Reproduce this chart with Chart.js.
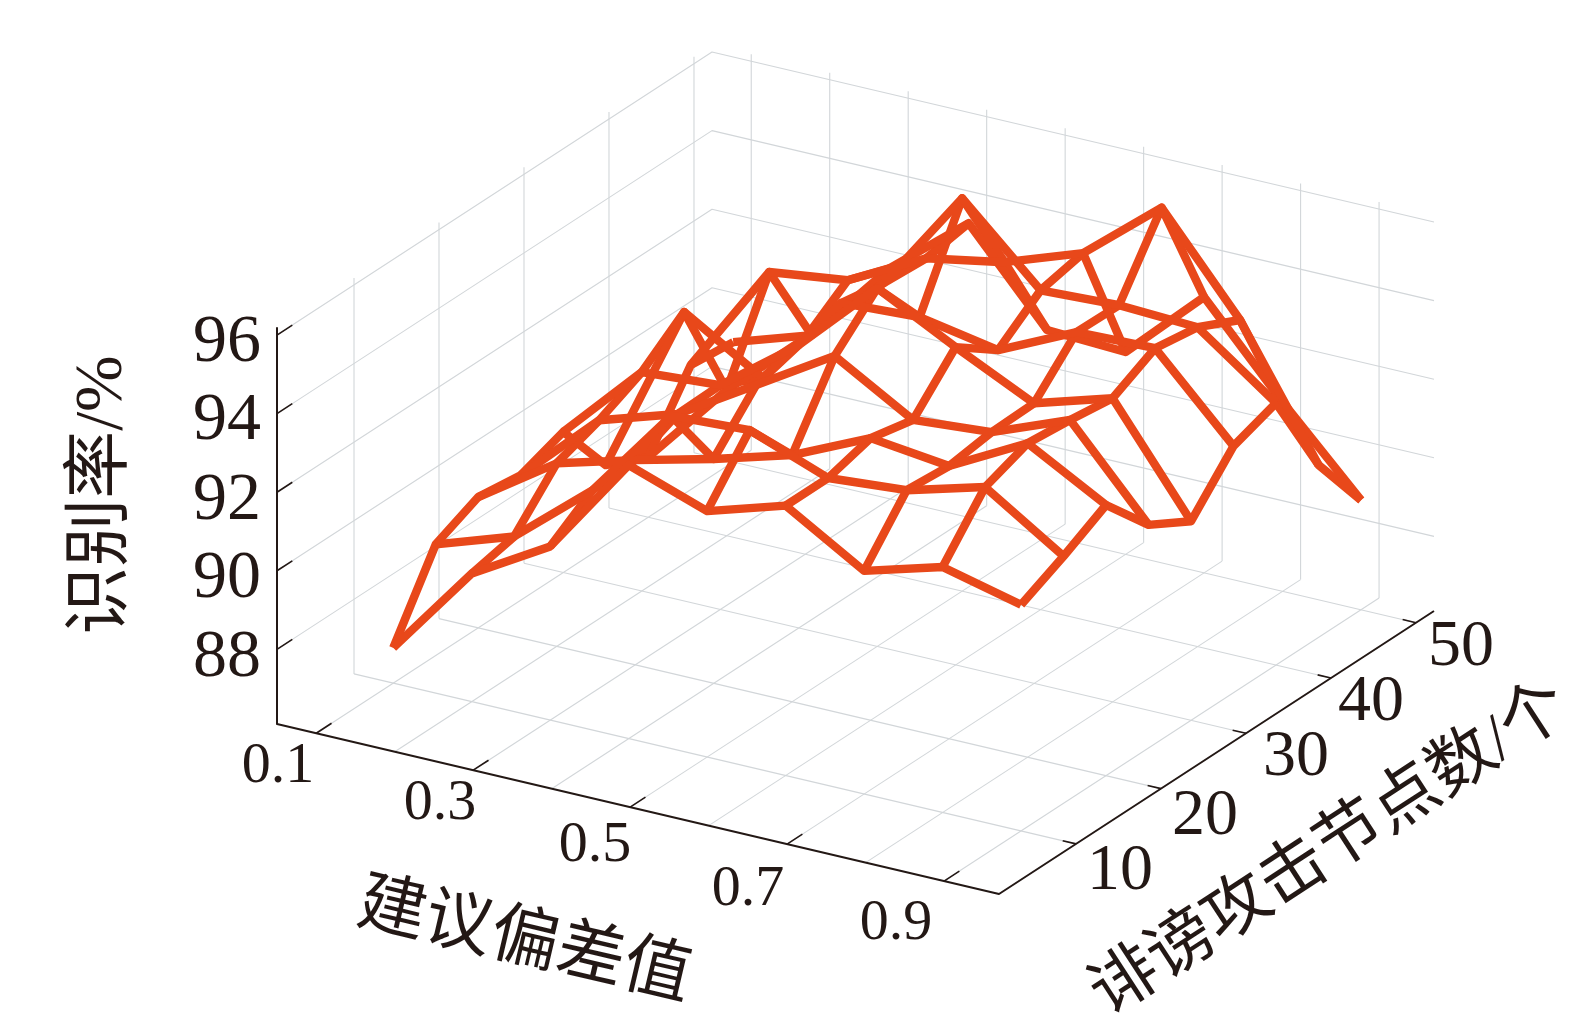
<!DOCTYPE html>
<html>
<head>
<meta charset="utf-8">
<script src="https://cdn.jsdelivr.net/npm/chart.js@4"></script>
<style>
  html, body { margin: 0; padding: 0; background: #fff; }
  canvas { display: block; }
</style>
</head>
<body>
<canvas id="chart" width="1575" height="1024"></canvas>
<script>
// mesh axes
const adviceDeviation = [0.1, 0.2, 0.3, 0.4, 0.5, 0.6, 0.7, 0.8, 0.9];
const slanderNodes = [10, 15, 20, 25, 30, 35, 40, 45, 50];

// recognition rate, one list per slander node count
const rate10 = [87.00, 89.36, 90.52, 93.06, 92.36, 92.97, 91.78, 92.35, 91.86];
const rate15 = [88.93, 89.60, 91.25, 93.61, 93.72, 92.97, 93.13, 93.68, 92.39];
const rate20 = [89.43, 90.76, 91.31, 91.81, 92.38, 93.28, 93.04, 94.09, 92.99];
const rate25 = [89.28, 91.15, 91.78, 92.99, 94.20, 93.04, 93.20, 93.98, 91.78];
const rate30 = [89.68, 91.67, 91.81, 93.30, 95.22, 94.19, 93.23, 93.83, 91.17];
const rate35 = [88.13, 92.50, 91.29, 93.67, 93.78, 93.41, 94.34, 94.40, 92.38];
const rate40 = [87.63, 89.81, 91.60, 93.47, 96.10, 94.23, 94.32, 94.23, 92.77];
const rate45 = [89.27, 92.11, 92.37, 93.40, 93.77, 94.47, 96.10, 93.71, 90.49];
const rate50 = [89.15, 89.80, 91.98, 93.59, 91.34, 91.25, 93.12, 90.92, 88.89];
const rates = [rate10, rate15, rate20, rate25, rate30, rate35, rate40, rate45, rate50];

// ticks and grid
const xGrid = [0.1, 0.2, 0.3, 0.4, 0.5, 0.6, 0.7, 0.8, 0.9];
const xTicks = [0.1, 0.3, 0.5, 0.7, 0.9];
const yTicks = [10, 20, 30, 40, 50];
const zTicks = [88, 90, 92, 94, 96];

// axis limits
const xLim = [0.05, 0.97];
const yLim = [0.94, 52.12];
const zLim = [86.1, 96.18];

// orthographic view, same as the 3d plot: corner and edge vectors in chart units
const corner = { x: 277, y: 724 };
const xEdge = { x: 722, y: 170 };
const yEdge = { x: 435, y: -283 };
const zEdge = -396;

const project = (x, y, z) => {
    const u = (x - xLim[0]) / (xLim[1] - xLim[0]);
    const v = (y - yLim[0]) / (yLim[1] - yLim[0]);
    const w = (z - zLim[0]) / (zLim[1] - zLim[0]);
    return {
        x: corner.x + u * xEdge.x + v * yEdge.x,
        y: corner.y + u * xEdge.y + v * yEdge.y + w * zEdge
    };
};

const lineSet = (points, color, width, order) => ({
    data: points,
    showLine: true,
    pointRadius: 0,
    borderColor: color,
    borderWidth: width,
    borderJoinStyle: 'round',
    borderCapStyle: 'butt',
    tension: 0,
    order: order,
    clip: false
});

const GRID = '#d2d6d9';
const AXIS = '#231815';
const MESH = '#e8481a';
const datasets = [];

// floor grid
xGrid.forEach(x => datasets.push(lineSet([project(x, yLim[0], zLim[0]), project(x, yLim[1], zLim[0])], GRID, 1.1, 30)));
yTicks.forEach(y => datasets.push(lineSet([project(xLim[0], y, zLim[0]), project(xLim[1], y, zLim[0])], GRID, 1.1, 30)));

// left and back walls
yTicks.forEach(y => datasets.push(lineSet([project(xLim[0], y, zLim[0]), project(xLim[0], y, zLim[1])], GRID, 1.1, 30)));
xGrid.forEach(x => datasets.push(lineSet([project(x, yLim[1], zLim[0]), project(x, yLim[1], zLim[1])], GRID, 1.1, 30)));
zTicks.forEach(z => datasets.push(lineSet([
    project(xLim[0], yLim[0], z), project(xLim[0], yLim[1], z), project(xLim[1], yLim[1], z)
], GRID, 1.1, 30)));

// axis lines and tick marks
datasets.push(lineSet([project(xLim[0], yLim[0], zLim[1]), project(xLim[0], yLim[0], zLim[0]),
    project(xLim[1], yLim[0], zLim[0]), project(xLim[1], yLim[1], zLim[0])], AXIS, 2, 20));
zTicks.forEach(z => datasets.push(lineSet([project(xLim[0], yLim[0], z), project(xLim[0], yLim[0] + 1.8, z)], AXIS, 1.6, 20)));
xTicks.forEach(x => datasets.push(lineSet([project(x, yLim[0], zLim[0]), project(x, yLim[0] + 1.8, zLim[0])], AXIS, 1.6, 20)));
yTicks.forEach(y => datasets.push(lineSet([project(xLim[1], y, zLim[0]), project(xLim[1] - 0.017, y, zLim[0])], AXIS, 1.6, 20)));

// wire mesh
rates.forEach((row, j) => {
    datasets.push(lineSet(row.map((z, i) => project(adviceDeviation[i], slanderNodes[j], z)), MESH, 8.4, 1));
});
adviceDeviation.forEach((x, i) => {
    datasets.push(lineSet(rates.map((row, j) => project(x, slanderNodes[j], row[i])), MESH, 8.4, 1));
});

// tick label and title placement
const LATIN = '"Liberation Serif"';
const CJK = '"Liberation Serif", "Noto Sans CJK SC"';
const zLabelPos = [658, 579, 501, 421, 343];
const xLabelPos = [[278, 767], [440, 804], [595, 846], [748, 890], [896, 924]];
const yLabelPos = [[1120, 872], [1205, 817], [1296, 758], [1371, 703], [1461, 648]];

const axisText = {
    id: 'axisText',
    afterDraw(chart) {
        const ctx = chart.ctx;
        ctx.save();
        ctx.fillStyle = AXIS;
        ctx.textBaseline = 'middle';

        ctx.font = '68px ' + LATIN;
        ctx.textAlign = 'right';
        zTicks.forEach((z, i) => ctx.fillText(String(z), 261, zLabelPos[i]));

        ctx.textAlign = 'center';
        ctx.font = '58px ' + LATIN;
        xTicks.forEach((x, i) => ctx.fillText(x.toFixed(1), xLabelPos[i][0], xLabelPos[i][1]));
        ctx.font = '66px ' + LATIN;
        yTicks.forEach((y, i) => ctx.fillText(String(y), yLabelPos[i][0], yLabelPos[i][1]));

        const title = (text, px, py, deg, size) => {
            ctx.save();
            ctx.translate(px, py);
            ctx.rotate(deg * Math.PI / 180);
            ctx.font = size + 'px ' + CJK;
            ctx.fillText(text, 0, 0);
            ctx.restore();
        };
        title('识别率/%', 103, 495, -90, 68);
        title('建议偏差值', 524, 943, 13.2, 68);
        title('诽谤攻击节点数/个', 1331, 851, -33, 67);
        ctx.restore();
    }
};

new Chart(document.getElementById('chart').getContext('2d'), {
    type: 'scatter',
    data: { datasets },
    options: {
        responsive: false,
        animation: false,
        layout: { padding: 0 },
        plugins: { legend: { display: false }, tooltip: { enabled: false } },
        scales: {
            x: { type: 'linear', display: false, min: 0, max: 1575 },
            y: { type: 'linear', display: false, min: 0, max: 1024, reverse: true }
        }
    },
    plugins: [axisText]
});
</script>
</body>
</html>
